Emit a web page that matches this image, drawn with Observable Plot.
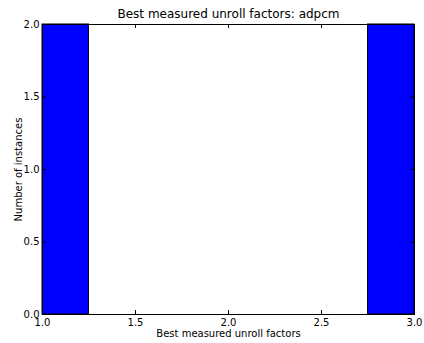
<!DOCTYPE html>
<html>
<head>
<meta charset="utf-8">
<script src="https://cdn.jsdelivr.net/npm/d3@7"></script>
<script src="https://cdn.jsdelivr.net/npm/@observablehq/plot@0.6"></script>
<style>
  html, body { margin: 0; padding: 0; background: #fff; }
  svg { display: block; }
</style>
</head>
<body>
<div id="chart"></div>
<script>
const title = "Best measured unroll factors: adpcm";
const xLabel = "Best measured unroll factors";
const yLabel = "Number of instances";
const binStarts = [1.0, 1.25, 1.5, 1.75, 2.0, 2.25, 2.5, 2.75];
const binEnds   = [1.25, 1.5, 1.75, 2.0, 2.25, 2.5, 2.75, 3.0];
const counts    = [2, 0, 0, 0, 0, 0, 0, 2];
const xTicks = [1.0, 1.5, 2.0, 2.5, 3.0];
const yTicks = [0.0, 0.5, 1.0, 1.5, 2.0];

const bins = binStarts.map((s, i) => ({x1: s, x2: binEnds[i], y: counts[i]}));

const W = 424, H = 343, mL = 42, mR = 10, mT = 24, mB = 29;
const pw = W - mL - mR, ph = H - mT - mB, tl = 4;

const chart = Plot.plot({
  width: W, height: H,
  marginLeft: mL, marginRight: mR, marginTop: mT, marginBottom: mB,
  style: {fontFamily: "DejaVu Sans, sans-serif", fontSize: "10px", background: "white", color: "black"},
  x: {domain: [1, 3], ticks: xTicks},
  y: {domain: [0, 2], ticks: yTicks},
  marks: [
    Plot.rectY(bins, {x1: "x1", x2: "x2", y: "y", fill: "#0000ff", stroke: "black", strokeWidth: 1}),
    Plot.frame({stroke: "black", strokeWidth: 1}),
    Plot.tickX(xTicks, {x: d => d, insetTop: ph - tl, stroke: "black"}),
    Plot.tickX(xTicks, {x: d => d, insetBottom: ph - tl, stroke: "black"}),
    Plot.tickY(yTicks, {y: d => d, insetRight: pw - tl, stroke: "black"}),
    Plot.tickY(yTicks, {y: d => d, insetLeft: pw - tl, stroke: "black"}),
    Plot.axisX(xTicks, {tickSize: 0, tickPadding: 4, tickFormat: d3.format(".1f"), label: null, fontSize: 10}),
    Plot.axisY(yTicks, {tickSize: 0, tickPadding: 3, tickFormat: d3.format(".1f"), label: null, fontSize: 10}),
    Plot.text([title], {frameAnchor: "top", lineAnchor: "middle", textAnchor: "middle", dy: -10, fontSize: 12, text: d => d}),
    Plot.text([xLabel], {frameAnchor: "bottom", lineAnchor: "middle", textAnchor: "middle", dy: 19.5, fontSize: 10, text: d => d}),
    Plot.text([yLabel], {frameAnchor: "left", lineAnchor: "middle", textAnchor: "middle", dx: -24, rotate: -90, fontSize: 10, text: d => d})
  ]
});
document.getElementById("chart").appendChild(chart);
</script>
</body>
</html>
